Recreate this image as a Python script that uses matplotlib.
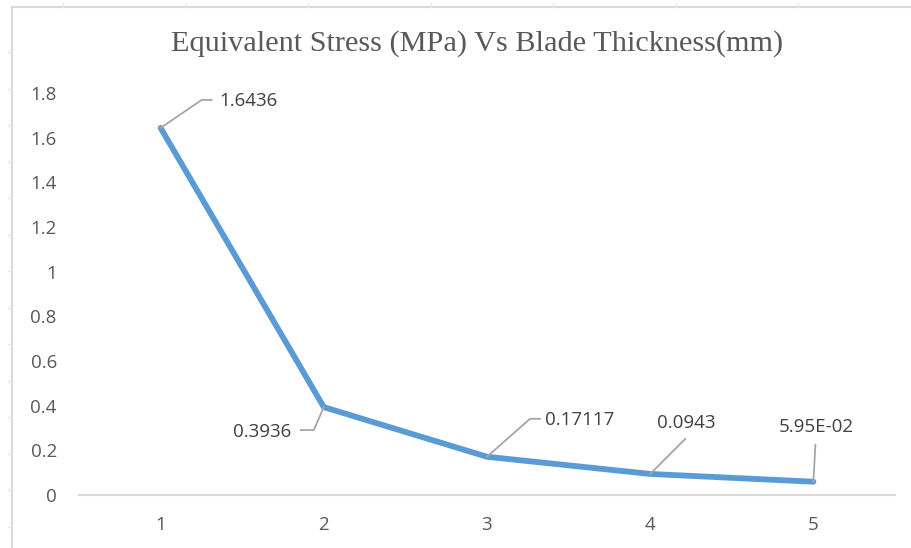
import matplotlib
matplotlib.use("Agg")
import matplotlib.pyplot as plt
from matplotlib.lines import Line2D
from matplotlib.transforms import IdentityTransform
import numpy as np

# ---- data ----
categories = ["1", "2", "3", "4", "5"]
stress = [1.6436, 0.3936, 0.17117, 0.0943, 0.0595]
data_labels = ["1.6436", "0.3936", "0.17117", "0.0943", "5.95E-02"]
y_ticks = [0, 0.2, 0.4, 0.6, 0.8, 1.0, 1.2, 1.4, 1.6, 1.8]
y_tick_labels = ["0", "0.2", "0.4", "0.6", "0.8", "1", "1.2", "1.4", "1.6", "1.8"]
title = "Equivalent Stress (MPa) Vs Blade Thickness(mm)"

W, H, DPI = 911, 548, 100
fig = plt.figure(figsize=(W / DPI, H / DPI), dpi=DPI)
fig.patch.set_facecolor("white")

# axes placement (pixels in image coords)
ax_l, ax_r, ax_t, ax_b = 79, 895, 93, 495
ax = fig.add_axes([ax_l / W, 1 - ax_b / H, (ax_r - ax_l) / W, (ax_b - ax_t) / H])

x = np.arange(1, len(categories) + 1)
ax.plot(x, stress, color="#5B9BD5", lw=4.2, solid_joinstyle="round", solid_capstyle="round", zorder=3)

ax.set_xlim(0.5, len(categories) + 0.5)
ax.set_ylim(0, 1.8)
ax.set_xticks(x)
ax.set_xticklabels(categories)
ax.set_yticks(y_ticks)
ax.set_yticklabels(y_tick_labels)

FAM = ["Open Sans", "DejaVu Sans"]
for lbl in ax.get_xticklabels() + ax.get_yticklabels():
    lbl.set_fontfamily(FAM)
    lbl.set_fontsize(13.5)
    lbl.set_color("#595959")
ax.tick_params(axis="both", length=0)
ax.tick_params(axis="y", pad=16)
ax.tick_params(axis="x", pad=15)

for s in ["left", "right", "top"]:
    ax.spines[s].set_visible(False)
ax.spines["bottom"].set_color("#d9d9d9")
ax.spines["bottom"].set_linewidth(1.5)
ax.set_facecolor("none")

# title
fig.text(477 / W, 1 - 44 / H, title, ha="center", va="center",
         family=["Liberation Serif", "DejaVu Serif"], size=21.8, color="#595959")

# data labels with leader lines (offsets in pixels, y up)
leaders = [
    [(0, 0), (41, 28), (51, 28)],
    [(0, 0), (-10, -23), (-23, -23)],
    [(0, 0), (43, 38), (53, 38)],
    [(0, 0), (35, 35)],
    [(0, 0), (2, 37)],
]
text_pos = [
    ((59, 27), "left"),
    ((-33, -25), "right"),
    ((58, 37), "left"),
    ((36, 51), "center"),
    ((3, 55), "center"),
]
fig.canvas.draw()
for xi, yi, lab, ld, (tp, ha) in zip(x, stress, data_labels, leaders, text_pos):
    px, py = ax.transData.transform((xi, yi))
    xs = [px + dx for dx, dy in ld]
    ys = [py + dy for dx, dy in ld]
    fig.add_artist(Line2D(xs, ys, transform=IdentityTransform(), color="#a6a6a6", lw=1.3, zorder=4))
    fig.text(px + tp[0], py + tp[1], lab, transform=IdentityTransform(), ha=ha, va="center",
             family=FAM, size=13.5, color="#404040", zorder=5)

# chart area border (top and left edges visible)
bc = "#d9d9d9"
fig.add_artist(Line2D([12 / W, 1], [1 - 7 / H, 1 - 7 / H], transform=fig.transFigure, color=bc, lw=1.5))
fig.add_artist(Line2D([12 / W, 12 / W], [0, 1 - 7 / H], transform=fig.transFigure, color=bc, lw=1.5))
# faint sheet grid marks outside the border
for yy in np.arange(52, H, 36.5):
    fig.add_artist(Line2D([8 / W, 12 / W], [1 - yy / H, 1 - yy / H], transform=fig.transFigure, color="#e6e6e6", lw=1))
for xx in np.arange(63, W, 122.5):
    fig.add_artist(Line2D([xx / W, xx / W], [1 - 3 / H, 1 - 7 / H], transform=fig.transFigure, color="#e6e6e6", lw=1))

fig.savefig("out.png", dpi=DPI, facecolor="white")
